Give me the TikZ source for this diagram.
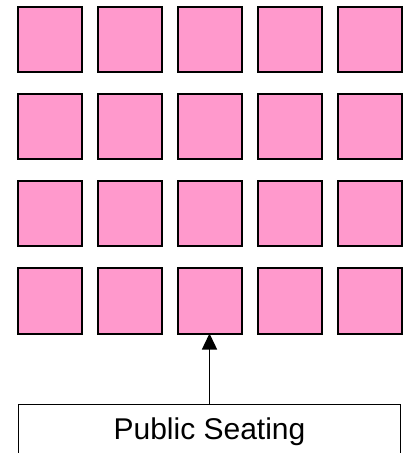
\documentclass[tikz,border=0pt]{standalone}
\usepackage{fontspec}
\setmainfont{Liberation Sans}
\usepackage{tikz}
\usetikzlibrary{positioning,arrows.meta}

\begin{document}
\begin{tikzpicture}[
        x=0.5pt, y=-0.5pt,
        node distance=11pt and 8pt,
        every node/.style={align=center},
        seat/.style={rectangle, draw=black, line width=1pt, fill=seatpink, minimum width=32pt, minimum height=32.5pt, inner sep=0pt, outer sep=0pt},
        public/.style={rectangle, draw=black, line width=0.6pt, fill=white, minimum width=191pt, minimum height=27pt, outer sep=0pt, font=\fontsize{15}{18}\selectfont}
    ]
        \definecolor{seatpink}{RGB}{255,153,204}
        \useasboundingbox (0,0) rectangle (402,453);

        % Nodes
        \node[seat] (s11) at (49.5,40) {};
        \node[seat, right=of s11] (s12) {};
        \node[seat, right=of s12] (s13) {};
        \node[seat, right=of s13] (s14) {};
        \node[seat, right=of s14] (s15) {};

        \node[seat, below=of s11] (s21) {};
        \node[seat, right=of s21] (s22) {};
        \node[seat, right=of s22] (s23) {};
        \node[seat, right=of s23] (s24) {};
        \node[seat, right=of s24] (s25) {};

        \node[seat, below=of s21] (s31) {};
        \node[seat, right=of s31] (s32) {};
        \node[seat, right=of s32] (s33) {};
        \node[seat, right=of s33] (s34) {};
        \node[seat, right=of s34] (s35) {};

        \node[seat, below=of s31] (s41) {};
        \node[seat, right=of s41] (s42) {};
        \node[seat, right=of s42] (s43) {};
        \node[seat, right=of s43] (s44) {};
        \node[seat, right=of s44] (s45) {};

        \node[public, below=35.5pt of s43] (public) {Public Seating};

        % Connections
        \draw[-{Triangle[width=7.5pt,length=8pt]}, line width=0.7pt] (public) -- (s43);

    \end{tikzpicture}
\end{document}
